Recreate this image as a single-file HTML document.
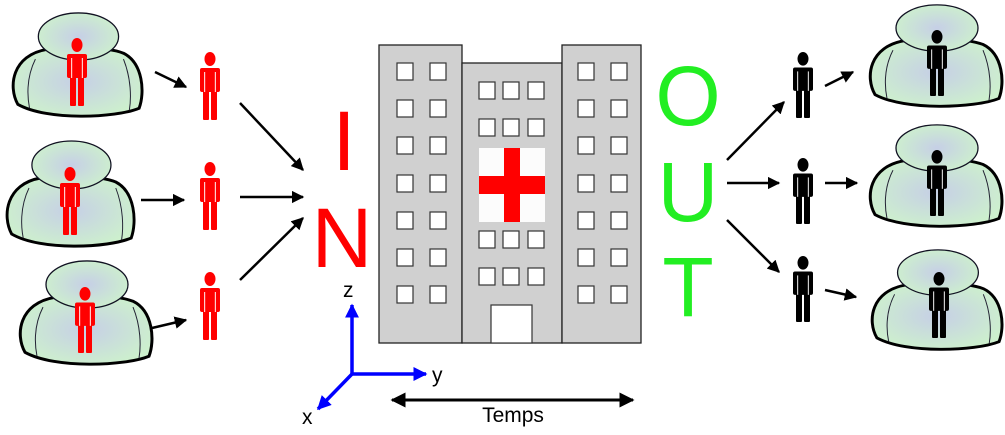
<!DOCTYPE html>
<html><head><meta charset="utf-8"><style>html,body{margin:0;padding:0;background:#fff}svg{display:block}</style></head>
<body>
<svg width="1005" height="435" viewBox="0 0 1005 435" xmlns="http://www.w3.org/2000/svg">
<defs>
<radialGradient id="g" cx="0.5" cy="0.5" r="0.55">
<stop offset="0" stop-color="#c6cfe6"/><stop offset="1" stop-color="#cdf0cd"/></radialGradient>
<symbol id="cloud" viewBox="0 0 140 112" preserveAspectRatio="none">
<path d="M10,96 C0,78 4,46 40,40 C60,37 100,37 118,44 C138,54 140,84 134,100 C110,110 40,113 10,96 Z" fill="url(#g)" stroke="#000" stroke-width="3"/>
<path d="M28,50 C18,70 20,90 22,100 M118,50 C126,70 126,90 124,102" fill="none" stroke="#223" stroke-width="1"/>
<ellipse cx="72" cy="27" rx="41" ry="24" fill="url(#g)" stroke="#112" stroke-width="1.3"/>
</symbol>
<symbol id="p" viewBox="0 0 24 68" preserveAspectRatio="none">
<ellipse cx="12" cy="7" rx="5.5" ry="7"/>
<rect x="2" y="16" width="20" height="24" rx="2"/>
<rect x="5" y="36" width="6" height="32" rx="1"/>
<rect x="13" y="36" width="6" height="32" rx="1"/>
<rect x="6" y="20" width="1.2" height="20" fill="#fff" opacity="0.8"/>
<rect x="16.8" y="20" width="1.2" height="20" fill="#fff" opacity="0.8"/>
</symbol>
<marker id="a" viewBox="0 0 10 10" refX="9" refY="5" markerWidth="5" markerHeight="5" orient="auto"><path d="M0,0 L10,5 L0,10 Z" fill="#000"/></marker>
<marker id="ab" viewBox="0 0 10 10" refX="9" refY="5" markerWidth="4" markerHeight="4" orient="auto"><path d="M0,0 L10,5 L0,10 Z" fill="#00f"/></marker>
<marker id="as" viewBox="0 0 10 10" refX="1" refY="5" markerWidth="5" markerHeight="5" orient="auto"><path d="M10,0 L0,5 L10,10 Z" fill="#000"/></marker>
</defs>

<!-- clouds -->
<use href="#cloud" x="8" y="10" width="137" height="110"/>
<use href="#cloud" x="2" y="138" width="135" height="112"/>
<use href="#cloud" x="15" y="258" width="140" height="110"/>
<use href="#cloud" x="865" y="2" width="140" height="108"/>
<use href="#cloud" x="865" y="122" width="140" height="108"/>
<use href="#cloud" x="867" y="247" width="138" height="106"/>

<g fill="#f00">
<use href="#p" x="65" y="38" width="24" height="68"/>
<use href="#p" x="58" y="167" width="24" height="68"/>
<use href="#p" x="73" y="287" width="24" height="66"/>
<use href="#p" x="198" y="52" width="24" height="68"/>
<use href="#p" x="198" y="162" width="24" height="68"/>
<use href="#p" x="198" y="272" width="24" height="68"/>
</g>
<g fill="#000">
<use href="#p" x="925" y="30" width="24" height="66"/>
<use href="#p" x="925" y="150" width="24" height="66"/>
<use href="#p" x="927" y="272" width="24" height="66"/>
<use href="#p" x="791" y="52" width="24" height="66"/>
<use href="#p" x="791" y="158" width="24" height="66"/>
<use href="#p" x="791" y="256" width="24" height="66"/>
</g>

<!-- arrows -->
<g stroke="#000" stroke-width="2.5" marker-end="url(#a)">
<line x1="155" y1="72" x2="186" y2="87"/>
<line x1="141" y1="200" x2="184" y2="200"/>
<line x1="152" y1="328" x2="186" y2="320"/>
<line x1="240" y1="103" x2="303" y2="170"/>
<line x1="240" y1="197" x2="303" y2="197"/>
<line x1="240" y1="280" x2="303" y2="218"/>
<line x1="727" y1="160" x2="784" y2="102"/>
<line x1="727" y1="183" x2="779" y2="183"/>
<line x1="727" y1="220" x2="779" y2="272"/>
<line x1="825" y1="86" x2="853" y2="72"/>
<line x1="825" y1="183" x2="857" y2="183"/>
<line x1="825" y1="290" x2="856" y2="297"/>
</g>

<!-- IN / OUT -->
<g font-family="Liberation Sans, sans-serif" font-size="84" text-anchor="middle">
<text x="344" y="170" fill="#f00">I</text>
<text x="342" y="267" fill="#f00">N</text>
<text x="688" y="125" fill="#22ee22">O</text>
<text x="688" y="221" fill="#22ee22">U</text>
<text x="688" y="316" fill="#22ee22">T</text>
</g>

<!-- building -->
<g stroke="#222" stroke-width="1.3" fill="#d0d0d0">
<rect x="379" y="45" width="83" height="298"/>
<rect x="462" y="63" width="100" height="280"/>
<rect x="562" y="45" width="79" height="298"/>
</g>
<g fill="#fff" stroke="#333" stroke-width="1.2">
<g id="lw">
<rect x="397" y="63" width="16" height="17"/><rect x="430" y="63" width="16" height="17"/>
<rect x="397" y="100" width="16" height="17"/><rect x="430" y="100" width="16" height="17"/>
<rect x="397" y="137" width="16" height="17"/><rect x="430" y="137" width="16" height="17"/>
<rect x="397" y="175" width="16" height="17"/><rect x="430" y="175" width="16" height="17"/>
<rect x="397" y="212" width="16" height="17"/><rect x="430" y="212" width="16" height="17"/>
<rect x="397" y="249" width="16" height="17"/><rect x="430" y="249" width="16" height="17"/>
<rect x="397" y="286" width="16" height="17"/><rect x="430" y="286" width="16" height="17"/>
</g>
<use href="#lw" x="181"/>
<rect x="479" y="82" width="16" height="17"/><rect x="503" y="82" width="16" height="17"/><rect x="528" y="82" width="16" height="17"/>
<rect x="479" y="119" width="16" height="17"/><rect x="503" y="119" width="16" height="17"/><rect x="528" y="119" width="16" height="17"/>
<rect x="479" y="231" width="16" height="17"/><rect x="503" y="231" width="16" height="17"/><rect x="528" y="231" width="16" height="17"/>
<rect x="479" y="268" width="16" height="17"/><rect x="503" y="268" width="16" height="17"/><rect x="528" y="268" width="16" height="17"/>
<rect x="491" y="305" width="41" height="38"/>
</g>
<rect x="479" y="148" width="66" height="74" fill="#fcfcfc"/>
<rect x="504" y="148" width="16" height="74" fill="#f00"/>
<rect x="479" y="176" width="66" height="18" fill="#f00"/>

<!-- axes -->
<g stroke="#00f" stroke-width="3.5">
<line x1="352" y1="374" x2="352" y2="305" marker-end="url(#ab)"/>
<line x1="351" y1="374" x2="426" y2="374" marker-end="url(#ab)"/>
<line x1="353" y1="373" x2="318" y2="409" marker-end="url(#ab)"/>
</g>
<g font-family="Liberation Sans, sans-serif" font-size="21" fill="#000">
<text x="343" y="297">z</text>
<text x="432" y="382">y</text>
<text x="302" y="424">x</text>
<text x="513" y="422" text-anchor="middle">Temps</text>
</g>
<line x1="392" y1="400" x2="633" y2="400" stroke="#000" stroke-width="3" marker-start="url(#as)" marker-end="url(#a)"/>
</svg>
</body></html>
